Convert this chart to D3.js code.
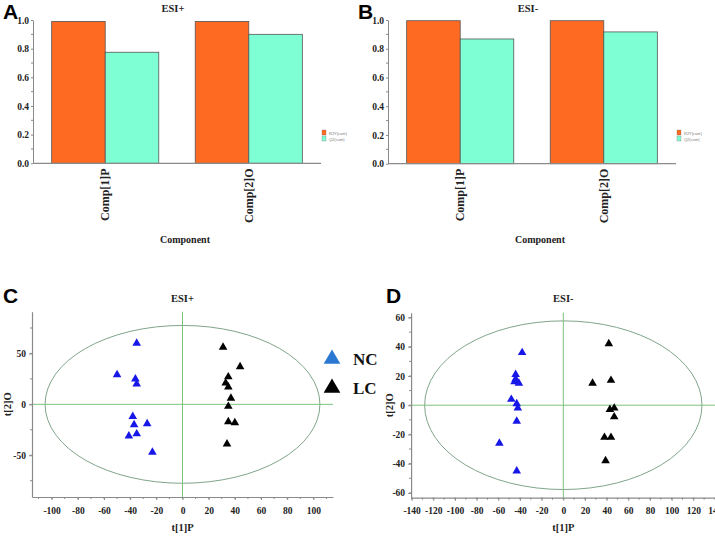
<!DOCTYPE html>
<html><head><meta charset="utf-8">
<script src="https://cdn.jsdelivr.net/npm/d3@7"></script>
<style>
body{margin:0;background:#fff;}
svg{display:block;}
</style></head><body>
<svg id="c" width="715" height="541"></svg>
<script>
// ---------- DATA ----------
const components = ["Comp[1]P", "Comp[2]O"];
const seriesNames = ["R2Y(cum)", "Q2(cum)"];
const esiPosR2Y = [0.99, 0.99];
const esiPosQ2 = [0.775, 0.90];
const esiNegR2Y = [0.995, 0.995];
const esiNegQ2 = [0.868, 0.917];
const barTicks = [0, 0.2, 0.4, 0.6, 0.8, 1.0];

const posNC = [[-35,60],[-50,29],[-36,25],[-35,20],[-38,-12],[-37,-20],[-27,-19],[-41,-31],[-35,-29],[-23,-47]];
const posLC = [[31,56],[44,37],[35,27],[33,21],[35,17],[37,6],[35,-2],[35,-17],[40,-18],[34,-39]];
const negNC = [[-38,36],[-44,21],[-45,16],[-41,15],[-44,18],[-48,4],[-43,1],[-42,-2],[-43,-11],[-59,-26],[-43,-45]];
const negLC = [[42,42],[27,15],[44,17],[43,-3],[47,-2],[47,-8],[38,-22],[44,-22],[39,-38]];
const posXTicks = [-100,-80,-60,-40,-20,0,20,40,60,80,100];
const posYTicks = [-50,0,50];
const negXTicks = [-140,-120,-100,-80,-60,-40,-20,0,20,40,60,80,100,120,140];
const negYTicks = [-60,-40,-20,0,20,40,60];

const svg = d3.select("#c");
const ORANGE = "#ff6a22", TEAL = "#7fffd4", AXIS = "#8a8a8a", GRID = "#7cc47c";
const SERIF = "'Liberation Serif', 'Times New Roman', serif";

function styleTk(sel, size){
  sel.style("font-family", SERIF).style("font-weight","bold").style("font-size", size+"px").style("fill","#222");
}
function panelLabel(t, x, y){
  svg.append("text").attr("x",x).attr("y",y).text(t)
    .attr("font-family","Liberation Sans, Arial, sans-serif").attr("font-weight","bold")
    .attr("font-size",21).attr("fill","#000");
}
function title(t, x, y){
  styleTk(svg.append("text").attr("x",x).attr("y",y).attr("text-anchor","middle").text(t), 10.5);
}

// ---------- BAR PANELS ----------
function barPanel(ox, r2, q2, y0, ttl, lbl){
  const g = svg.append("g");
  const x0 = d3.scaleBand().domain(components).range([ox+33, ox+321]).paddingInner(0.254).paddingOuter(0.13);
  const x1 = d3.scaleBand().domain(seriesNames).range([0, x0.bandwidth()]);
  const y = d3.scaleLinear().domain([0,1]).range([y0, 20]);
  const vals = components.map((c,i)=>({c, v:[r2[i], q2[i]]}));
  vals.forEach(d=>{
    d.v.forEach((v,j)=>{
      g.append("rect").attr("x", x0(d.c)+x1(seriesNames[j])).attr("y", y(v))
        .attr("width", x1.bandwidth()).attr("height", y(0)-y(v))
        .attr("fill", j===0?ORANGE:TEAL).attr("stroke","#555").attr("stroke-width",0.8);
    });
  });
  const ya = g.append("g").attr("transform",`translate(${ox+33},0)`)
    .call(d3.axisLeft(y).tickValues(barTicks).tickFormat(d3.format(".1f")).tickSize(2).tickSizeOuter(0).tickPadding(2));
  ya.select(".domain").attr("stroke",AXIS);
  ya.selectAll(".tick line").attr("stroke",AXIS);
  styleTk(ya.selectAll("text"), 9.5);
  const minor = d3.range(0.1,1,0.2);
  g.selectAll(null).data(minor).enter().append("line")
    .attr("x1",ox+31).attr("x2",ox+33).attr("y1",d=>y(d)).attr("y2",d=>y(d)).attr("stroke",AXIS);
  g.append("line").attr("x1",ox+33).attr("x2",ox+321).attr("y1",y(0)).attr("y2",y(0)).attr("stroke",AXIS).attr("stroke-width",1.2);
  components.forEach(c=>{
    const cx = x0(c)+x0.bandwidth()/2+4;
    styleTk(g.append("text").attr("transform",`translate(${cx},${y(0)+5}) rotate(-90)`)
      .attr("text-anchor","end").text(c), 12);
  });
  styleTk(g.append("text").attr("x",ox+185).attr("y",243).attr("text-anchor","middle").text("Component"), 10);
  const lx = ox+322;
  seriesNames.forEach((s,j)=>{
    g.append("rect").attr("x",lx).attr("y",130+j*6).attr("width",4).attr("height",5)
      .attr("fill",j===0?ORANGE:TEAL).attr("stroke","#666").attr("stroke-width",0.3);
    g.append("text").attr("x",lx+7).attr("y",134.5+j*6).text(s)
      .attr("font-family","Liberation Sans, sans-serif").attr("font-size",4).attr("fill","#777");
  });
  title(ttl, ox+173, 12);
  panelLabel(lbl, ox+3, 19);
}
barPanel(0, esiPosR2Y, esiPosQ2, 163.3, "ESI+", "A");
barPanel(355, esiNegR2Y, esiNegQ2, 163.7, "ESI-", "B");

// ---------- SCATTER PANELS ----------
const fmt = d => String(d);
function scatterPanel(cfg){
  const g = svg.append("g");
  const x = d3.scaleLinear().domain(cfg.xd).range(cfg.xr);
  const y = d3.scaleLinear().domain(cfg.yd).range(cfg.yr);
  g.append("ellipse").attr("cx",x(0)).attr("cy",y(0))
    .attr("rx",x(cfg.rx)-x(0)).attr("ry",y(0)-y(cfg.ry))
    .attr("fill","none").attr("stroke","#7fa58a").attr("stroke-width",1);
  g.append("line").attr("x1",x(0)).attr("x2",x(0)).attr("y1",cfg.yr[1]).attr("y2",cfg.yr[0]).attr("stroke",GRID);
  g.append("line").attr("x1",cfg.xr[0]).attr("x2",cfg.xr[1]).attr("y1",y(0)).attr("y2",y(0)).attr("stroke",GRID);
  const xa = g.append("g").attr("transform",`translate(0,${cfg.yr[0]})`)
    .call(d3.axisBottom(x).tickValues(cfg.xt).tickFormat(fmt).tickSize(3).tickSizeOuter(0).tickPadding(7));
  const ya = g.append("g").attr("transform",`translate(${cfg.xr[0]},0)`)
    .call(d3.axisLeft(y).tickValues(cfg.yt).tickFormat(fmt).tickSize(3).tickSizeOuter(0).tickPadding(3));
  [xa,ya].forEach(a=>{
    a.select(".domain").attr("stroke",AXIS).attr("stroke-width",1.2);
    a.selectAll(".tick line").attr("stroke",AXIS);
    styleTk(a.selectAll("text"), 9.5);
  });
  const xm = d3.range(Math.ceil(cfg.xd[0]/cfg.xmStep)*cfg.xmStep, cfg.xd[1], cfg.xmStep);
  g.selectAll(null).data(xm).enter().append("line")
    .attr("x1",d=>x(d)).attr("x2",d=>x(d)).attr("y1",cfg.yr[0]).attr("y2",cfg.yr[0]+2).attr("stroke",AXIS);
  const ym = d3.range(Math.ceil(cfg.yd[0]/cfg.ymStep)*cfg.ymStep, cfg.yd[1], cfg.ymStep);
  g.selectAll(null).data(ym).enter().append("line")
    .attr("x1",cfg.xr[0]-2).attr("x2",cfg.xr[0]).attr("y1",d=>y(d)).attr("y2",d=>y(d)).attr("stroke",AXIS);
  const tri = d3.symbol().type(d3.symbolTriangle).size(32);
  g.selectAll(null).data(cfg.nc).enter().append("path").attr("d",tri)
    .attr("transform",d=>`translate(${x(d[0])},${y(d[1])})`).attr("fill","#1717e8");
  g.selectAll(null).data(cfg.lc).enter().append("path").attr("d",tri)
    .attr("transform",d=>`translate(${x(d[0])},${y(d[1])})`).attr("fill","#000");
  styleTk(g.append("text").attr("x",x(0)).attr("y",531).attr("text-anchor","middle").text("t[1]P"), 10.5);
  styleTk(g.append("text").attr("transform",`translate(${cfg.ylx},${y(0)}) rotate(-90)`).attr("text-anchor","middle").text("t[2]O"), 10.5);
  title(cfg.title, x(0), 302);
  panelLabel(cfg.lbl, cfg.lblx, 303);
}
scatterPanel({xd:[-115,115], xr:[32,333], yd:[-91,91], yr:[497,311.7], rx:105, ry:77.5,
  xt:posXTicks, yt:posYTicks, xmStep:10, ymStep:25, nc:posNC, lc:posLC, title:"ESI+", lbl:"C", lblx:3, ylx:11});
scatterPanel({xd:[-140.5,150], xr:[411.1,725.8], yd:[-63.3,63.3], yr:[497.7,312.7], rx:128, ry:57.7,
  xt:negXTicks, yt:negYTicks, xmStep:10, ymStep:10, nc:negNC, lc:negLC, title:"ESI-", lbl:"D", lblx:386, ylx:393});

// ---------- GROUP LEGEND ----------
const legendItems = ["NC", "LC"];
const legendColors = ["#2a78d2", "#000"];
const bigTri = d3.symbol().type(d3.symbolTriangle).size(120);
legendItems.forEach((t,i)=>{
  svg.append("path").attr("d",bigTri).attr("transform",`translate(332,${359+i*29})`).attr("fill",legendColors[i]);
  svg.append("text").attr("x",353).attr("y",365+i*29).text(t)
    .attr("font-family",SERIF).attr("font-weight","bold").attr("font-size",17).attr("fill","#111");
});
</script>
</body></html>
